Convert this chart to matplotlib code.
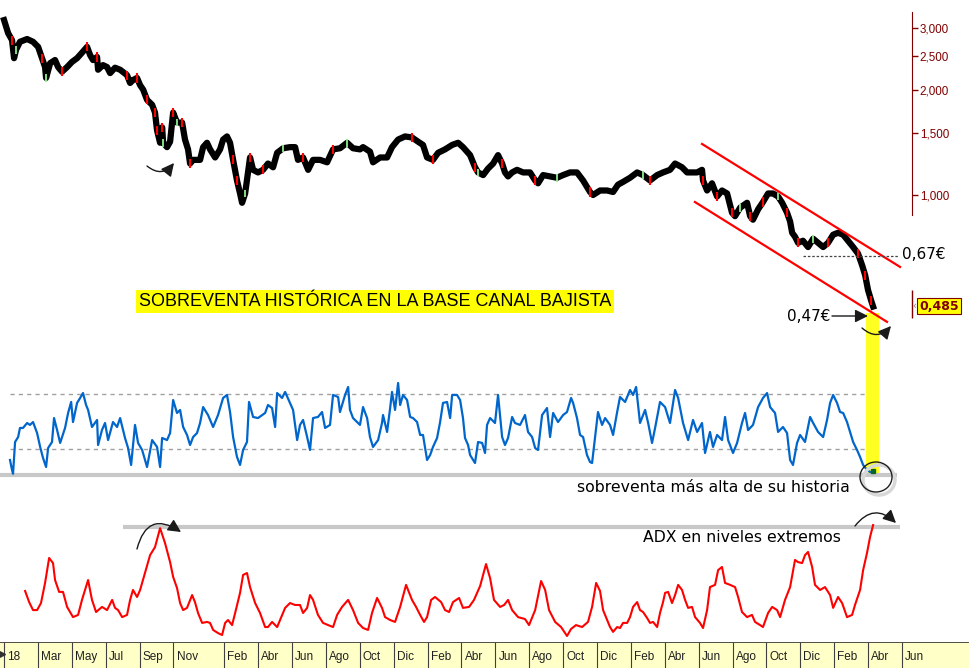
import numpy as np
import matplotlib
matplotlib.use('Agg')
import matplotlib.pyplot as plt
from matplotlib.patches import Rectangle, Ellipse, FancyArrowPatch
from matplotlib.ticker import NullLocator
from matplotlib.transforms import blended_transform_factory

plt.rcParams['font.family'] = ['DejaVu Sans']

# x values are months counted from January 2018
price_m = [0.00, 0.24, 0.47, 0.59, 0.71, 0.94, 1.36, 1.71, 2.01, 2.24,
           2.42, 2.48, 2.72, 3.01, 3.19, 3.42, 3.72, 4.01, 4.31, 4.60,
           4.90, 5.08, 5.25, 5.49, 5.55, 5.84, 6.08, 6.26, 6.55, 6.85,
           7.26, 7.44, 7.61, 7.85, 8.03, 8.21, 8.44, 8.74, 8.91, 9.03,
           9.21, 9.33, 9.39, 9.62, 9.80, 9.98, 10.21, 10.51, 10.68, 10.86,
           10.98, 11.16, 11.57, 11.75, 11.98, 12.16, 12.46, 12.75, 12.93, 13.16,
           13.34, 13.52, 13.75, 13.93, 14.05, 14.23, 14.40, 14.52, 14.70, 14.99,
           15.29, 15.58, 15.88, 16.12, 16.47, 16.88, 17.18, 17.35, 17.65, 17.95,
           18.24, 18.65, 19.07, 19.42, 19.83, 20.25, 20.60, 21.01, 21.19, 21.60,
           21.78, 22.20, 22.61, 22.90, 23.26, 23.67, 24.08, 24.44, 24.73, 24.97,
           25.32, 25.62, 26.03, 26.45, 26.80, 27.09, 27.51, 27.80, 27.98, 28.28,
           28.57, 28.87, 29.16, 29.40, 29.57, 29.75, 29.99, 30.28, 30.64, 31.05,
           31.35, 31.52, 31.82, 32.23, 32.64, 33.00, 33.41, 33.82, 34.18, 34.59,
           34.77, 35.18, 35.60, 35.95, 36.24, 36.54, 36.95, 37.37, 37.72, 38.13,
           38.55, 38.90, 39.31, 39.61, 40.02, 40.32, 40.61, 40.91, 41.20, 41.26,
           41.50, 41.79, 42.09, 42.38, 42.68, 42.97, 43.15, 43.45, 43.86, 44.04,
           44.21, 44.51, 44.80, 45.10, 45.39, 45.69, 45.93, 46.22, 46.40, 46.52,
           46.69, 46.87, 47.16, 47.46, 47.76, 48.05, 48.35, 48.64, 48.94, 49.23,
           49.53, 49.82, 50.12, 50.41, 50.65, 50.83, 51.00, 51.18, 51.30]
price_v = [3.16, 2.90, 2.77, 2.46, 2.60, 2.74, 2.79, 2.74, 2.65, 2.46,
           2.32, 2.16, 2.38, 2.43, 2.32, 2.25, 2.32, 2.40, 2.46, 2.55,
           2.65, 2.51, 2.43, 2.48, 2.28, 2.35, 2.32, 2.23, 2.31, 2.28,
           2.20, 2.09, 2.13, 2.16, 2.06, 2.00, 1.87, 1.81, 1.72, 1.53,
           1.41, 1.56, 1.41, 1.37, 1.42, 1.72, 1.61, 1.61, 1.44, 1.35,
           1.23, 1.26, 1.26, 1.37, 1.41, 1.35, 1.28, 1.35, 1.44, 1.47,
           1.41, 1.26, 1.10, 1.01, 0.95, 1.01, 1.16, 1.28, 1.18, 1.16,
           1.18, 1.23, 1.20, 1.32, 1.36, 1.37, 1.37, 1.26, 1.28, 1.18,
           1.26, 1.26, 1.24, 1.35, 1.36, 1.41, 1.36, 1.35, 1.37, 1.33,
           1.24, 1.28, 1.28, 1.37, 1.44, 1.47, 1.46, 1.42, 1.39, 1.28,
           1.26, 1.32, 1.35, 1.39, 1.41, 1.37, 1.30, 1.20, 1.16, 1.14,
           1.19, 1.23, 1.30, 1.23, 1.16, 1.13, 1.16, 1.18, 1.16, 1.16,
           1.10, 1.08, 1.14, 1.13, 1.12, 1.14, 1.16, 1.16, 1.10, 1.02,
           1.00, 1.03, 1.03, 1.02, 1.07, 1.09, 1.12, 1.16, 1.14, 1.10,
           1.14, 1.16, 1.18, 1.23, 1.20, 1.16, 1.16, 1.16, 1.18, 1.10,
           1.03, 1.08, 0.99, 1.03, 1.01, 0.89, 0.87, 0.92, 0.95, 0.87,
           0.85, 0.91, 0.955, 1.01, 1.01, 0.99, 0.95, 0.89, 0.84, 0.78,
           0.76, 0.73, 0.74, 0.71, 0.75, 0.73, 0.71, 0.73, 0.77, 0.78,
           0.77, 0.74, 0.71, 0.68, 0.63, 0.59, 0.535, 0.50, 0.48]
red_bars = [2, 9, 15, 20, 23, 30, 33, 36, 38, 39, 41, 45, 47, 50, 61, 62, 67, 70,
            78, 83, 96, 100, 107, 113, 120, 129, 139, 149, 152, 155, 159, 162,
            167, 171, 177, 183, 185, 187]
green_bars = [4, 11, 42, 46, 65, 74, 85, 108, 124, 138, 157, 165, 174]

# descending channel (month, price)
chan_up_m = [41.20, 52.89]
chan_up_p = [1.399, 0.623]
chan_lo_m = [40.78, 52.12]
chan_lo_p = [0.955, 0.434]

rsi_m = [0.35, 0.47, 0.53, 0.65, 0.83, 0.94, 1.12, 1.36, 1.53, 1.71,
         1.95, 2.13, 2.30, 2.48, 2.60, 2.83, 2.95, 3.13, 3.31, 3.60,
         3.78, 3.96, 4.07, 4.31, 4.49, 4.66, 4.84, 4.96, 5.19, 5.49,
         5.55, 5.78, 5.96, 6.14, 6.43, 6.67, 6.85, 7.14, 7.32, 7.50,
         7.73, 7.91, 8.15, 8.44, 8.74, 9.03, 9.21, 9.33, 9.62, 9.80,
         9.98, 10.21, 10.39, 10.57, 10.80, 10.98, 11.16, 11.39, 11.57, 11.75,
         12.04, 12.34, 12.63, 12.93, 13.16, 13.34, 13.52, 13.75, 13.93, 14.11,
         14.34, 14.46, 14.70, 14.99, 15.41, 15.58, 15.82, 16.00, 16.12, 16.41,
         16.59, 16.88, 17.06, 17.30, 17.47, 17.65, 17.89, 18.06, 18.24, 18.53,
         18.77, 18.95, 19.24, 19.42, 19.72, 19.83, 20.13, 20.31, 20.42, 20.60,
         21.01, 21.19, 21.43, 21.60, 21.78, 22.08, 22.31, 22.37, 22.61, 22.79,
         22.90, 23.08, 23.26, 23.38, 23.55, 23.79, 23.97, 24.14, 24.38, 24.56,
         24.73, 24.97, 25.15, 25.32, 25.56, 25.74, 25.91, 26.15, 26.33, 26.45,
         26.74, 26.92, 27.09, 27.21, 27.39, 27.51, 27.80, 27.98, 28.22, 28.39,
         28.51, 28.69, 28.98, 29.16, 29.40, 29.57, 29.75, 29.99, 30.16, 30.46,
         30.75, 30.93, 31.17, 31.35, 31.52, 31.76, 32.05, 32.23, 32.41, 32.70,
         33.00, 33.23, 33.47, 33.59, 33.82, 34.00, 34.18, 34.41, 34.59, 34.71,
         34.89, 35.06, 35.30, 35.48, 35.77, 35.95, 36.19, 36.36, 36.66, 36.95,
         37.13, 37.31, 37.54, 37.84, 38.02, 38.25, 38.43, 38.72, 39.02, 39.31,
         39.61, 39.79, 40.08, 40.38, 40.67, 40.91, 41.20, 41.38, 41.67, 41.85,
         42.09, 42.38, 42.56, 42.74, 43.03, 43.27, 43.56, 43.74, 43.92, 44.21,
         44.51, 44.80, 45.04, 45.22, 45.51, 45.69, 45.98, 46.22, 46.40, 46.57,
         46.81, 46.99, 47.28, 47.58, 47.76, 48.05, 48.35, 48.58, 48.76, 48.94,
         49.17, 49.35, 49.53, 49.76, 49.94, 50.12, 50.35, 50.53, 50.71, 50.94,
         51.12, 51.30]
rsi_v = [22.0, 14.7, 12.0, 35.1, 38.7, 45.3, 45.3, 48.9, 47.5, 49.6,
         41.6, 31.5, 23.5, 16.9, 30.7, 35.1, 52.5, 43.8, 34.4, 45.3,
         56.2, 64.2, 49.6, 63.5, 67.1, 70.7, 62.0, 58.4, 46.0, 51.1,
         32.9, 43.8, 48.9, 36.5, 49.6, 46.0, 52.5, 38.0, 30.7, 18.4,
         47.5, 34.4, 29.3, 16.9, 36.5, 31.5, 16.9, 38.0, 36.5, 41.6,
         65.6, 56.2, 58.4, 46.0, 40.2, 32.9, 38.7, 41.6, 48.9, 60.5,
         54.7, 46.0, 54.7, 67.1, 69.3, 56.9, 38.7, 24.2, 18.4, 29.3,
         35.1, 64.2, 53.3, 52.5, 56.2, 62.0, 59.8, 46.0, 70.7, 67.1,
         71.5, 63.5, 58.4, 36.5, 47.5, 51.1, 38.7, 29.3, 52.5, 53.3,
         56.9, 45.3, 47.5, 69.3, 67.8, 56.9, 69.3, 75.1, 58.4, 52.5,
         47.5, 60.5, 52.5, 38.7, 31.5, 36.5, 48.9, 54.7, 42.4, 59.8,
         71.5, 58.4, 78.0, 62.0, 69.3, 65.6, 53.3, 52.5, 49.6, 40.2,
         40.2, 22.0, 25.6, 31.5, 38.0, 49.6, 63.5, 64.2, 52.5, 69.3,
         69.3, 65.6, 52.5, 38.0, 32.9, 25.6, 19.8, 35.1, 34.4, 27.1,
         47.5, 52.5, 48.9, 69.3, 38.7, 32.9, 38.0, 53.3, 48.9, 47.5,
         54.7, 42.4, 38.7, 30.7, 29.3, 54.7, 59.8, 38.7, 56.2, 49.6,
         54.7, 56.9, 67.1, 63.5, 52.5, 40.2, 38.7, 25.6, 20.5, 19.8,
         38.7, 56.9, 47.5, 52.5, 47.5, 40.2, 56.9, 67.8, 64.2, 72.9,
         69.3, 75.1, 48.9, 58.4, 48.9, 34.4, 45.3, 64.2, 60.5, 48.9,
         72.9, 67.1, 48.9, 36.5, 51.1, 42.4, 48.9, 27.1, 42.4, 31.5,
         40.2, 36.5, 53.3, 36.5, 27.1, 34.4, 48.9, 56.2, 43.8, 47.5,
         60.5, 67.1, 70.7, 60.5, 56.2, 42.4, 46.0, 41.6, 22.0, 18.4,
         34.4, 40.2, 35.1, 53.3, 48.9, 42.4, 38.7, 51.1, 63.5, 69.3,
         63.5, 56.9, 56.2, 49.6, 42.4, 35.1, 29.3, 24.2, 18.4, 14.7,
         13.3, 13.3]

adx_m = [1.24, 1.48, 1.71, 1.95, 2.18, 2.42, 2.66, 2.89, 3.01, 3.25,
         3.48, 3.72, 4.07, 4.37, 4.60, 4.96, 5.19, 5.43, 5.78, 6.08,
         6.38, 6.55, 6.73, 6.97, 7.26, 7.44, 7.61, 7.85, 8.03, 8.32,
         8.62, 8.91, 9.21, 9.50, 9.80, 9.98, 10.21, 10.39, 10.57, 10.80,
         11.10, 11.27, 11.45, 11.69, 11.98, 12.16, 12.34, 12.63, 12.87, 13.05,
         13.22, 13.46, 13.64, 13.93, 14.11, 14.34, 14.52, 14.82, 15.11, 15.41,
         15.58, 15.82, 16.12, 16.29, 16.59, 16.88, 17.18, 17.47, 17.65, 17.89,
         18.06, 18.24, 18.53, 18.83, 19.13, 19.42, 19.66, 19.95, 20.31, 20.60,
         20.90, 21.19, 21.49, 21.72, 22.02, 22.31, 22.49, 22.79, 23.08, 23.38,
         23.73, 24.08, 24.32, 24.56, 24.79, 24.97, 25.21, 25.44, 25.80, 26.03,
         26.27, 26.50, 26.86, 27.09, 27.45, 27.74, 28.10, 28.45, 28.69, 28.92,
         29.28, 29.52, 29.75, 29.99, 30.34, 30.75, 30.99, 31.35, 31.70, 31.94,
         32.17, 32.53, 32.88, 33.23, 33.47, 33.76, 34.12, 34.47, 34.71, 34.95,
         35.18, 35.36, 35.60, 35.77, 35.95, 36.19, 36.36, 36.54, 36.78, 36.95,
         37.13, 37.37, 37.54, 37.72, 37.96, 38.13, 38.31, 38.55, 38.72, 38.90,
         39.02, 39.20, 39.43, 39.61, 39.79, 40.02, 40.20, 40.38, 40.61, 40.79,
         41.08, 41.26, 41.50, 41.67, 41.97, 42.15, 42.38, 42.56, 42.86, 43.15,
         43.33, 43.56, 43.86, 44.15, 44.33, 44.63, 44.80, 45.10, 45.34, 45.63,
         45.81, 46.10, 46.40, 46.69, 46.87, 47.11, 47.28, 47.46, 47.70, 47.87,
         48.17, 48.46, 48.76, 48.94, 49.23, 49.47, 49.76, 50.06, 50.23, 50.53,
         50.71, 50.94, 51.12, 51.30]
adx_v = [28.6, 24.0, 20.7, 20.7, 23.6, 31.9, 42.2, 40.1, 33.1, 28.2,
         28.2, 22.0, 17.8, 18.7, 24.9, 33.1, 24.9, 19.9, 22.0, 20.7,
         24.9, 21.6, 20.7, 17.8, 18.7, 24.9, 29.0, 26.1, 29.0, 36.0,
         43.4, 46.7, 54.5, 48.4, 40.5, 34.4, 29.8, 23.6, 20.7, 21.6,
         26.9, 24.0, 19.5, 15.4, 15.8, 15.4, 12.5, 11.2, 10.4, 15.4,
         16.6, 14.5, 19.5, 27.8, 35.2, 36.0, 30.2, 23.6, 19.5, 13.7,
         13.7, 15.8, 13.7, 16.6, 21.6, 23.6, 22.8, 22.8, 19.5, 21.6,
         26.9, 24.9, 18.7, 15.4, 14.5, 13.7, 18.7, 22.0, 24.9, 20.7,
         15.4, 13.3, 12.5, 19.5, 25.7, 21.6, 17.8, 16.6, 15.8, 22.0,
         31.1, 24.9, 22.0, 18.7, 15.8, 17.8, 24.9, 26.1, 24.0, 20.7,
         19.9, 24.0, 25.7, 21.6, 22.0, 24.9, 30.6, 39.7, 33.9, 24.9,
         22.0, 22.8, 24.9, 20.7, 17.8, 17.0, 14.5, 20.7, 32.7, 29.0,
         20.7, 15.8, 13.7, 10.0, 12.9, 14.5, 13.7, 15.8, 22.0, 31.9,
         28.6, 20.7, 16.6, 13.7, 11.7, 13.7, 13.3, 15.4, 15.4, 17.8,
         22.0, 24.0, 20.7, 19.9, 17.4, 15.4, 15.8, 13.7, 19.5, 24.0,
         27.8, 28.2, 23.6, 26.9, 31.1, 29.0, 24.9, 21.6, 22.0, 17.8,
         15.4, 13.3, 20.7, 30.2, 31.1, 37.2, 38.5, 31.9, 31.1, 30.2,
         26.1, 19.9, 17.8, 18.7, 15.8, 14.5, 13.7, 19.5, 22.0, 20.7,
         17.8, 24.9, 30.2, 41.4, 40.5, 40.1, 43.4, 44.7, 38.5, 31.1,
         29.0, 30.2, 26.9, 21.6, 26.1, 23.6, 17.8, 18.7, 22.8, 29.0,
         37.2, 44.3, 50.9, 55.8]

month_ticks = [0, 2, 4, 6, 8, 10, 13, 15, 17, 19, 21, 23, 25, 27, 29, 31, 33, 35,
               37, 39, 41, 43, 45, 47, 49, 51, 53]
month_labels = ['18', 'Mar', 'May', 'Jul', 'Sep', 'Nov', 'Feb', 'Abr', 'Jun', 'Ago',
                'Oct', 'Dic', 'Feb', 'Abr', 'Jun', 'Ago', 'Oct', 'Dic', 'Feb', 'Abr',
                'Jun', 'Ago', 'Oct', 'Dic', 'Feb', 'Abr', 'Jun']

price_ticks = [1.0, 1.5, 2.0, 2.5, 3.0]
price_ticklabels = ['1,000', '1,500', '2,000', '2,500', '3,000']
last_price = 0.485
resistance = 0.67
rsi_levels = [70, 30]
rsi_floor = 11.1
adx_extreme = 55.0

W, H = 969, 668
XLIM = (-0.24, 56.96)
AXIS_M = 53.6


def fx(x):
    return x / W


def fy(y):
    return 1 - y / H


fig = plt.figure(figsize=(W / 100, H / 100), dpi=100)
fig.patch.set_facecolor('white')

ax_p = fig.add_axes([0, fy(360), 1, 360 / H])
ax_r = fig.add_axes([0, fy(490), 1, 120 / H])
ax_a = fig.add_axes([0, fy(642), 1, 142 / H])
ax_d = fig.add_axes([0, 0, 1, 26 / H])

for ax in (ax_p, ax_r, ax_a, ax_d):
    ax.set_facecolor('none')
    ax.set_xlim(*XLIM)
    for s in ax.spines.values():
        s.set_visible(False)
    ax.tick_params(axis='both', which='both', bottom=False, left=False,
                   labelbottom=False, labelleft=False)

# ---- price panel ----
ax_p.set_yscale('log')
ax_p.set_ylim(0.3377, 3.607)
pm = np.array(price_m)
pv = np.array(price_v)
ax_p.plot(pm, pv, color='black', lw=4.5, solid_joinstyle='round', zorder=2)
ax_p.vlines(pm[red_bars], pv[red_bars] * 0.97, pv[red_bars] * 1.03,
            colors='#FF0000', lw=1.5, zorder=3)
ax_p.vlines(pm[green_bars], pv[green_bars] * 0.975, pv[green_bars] * 1.025,
            colors='#90EE90', lw=1.3, zorder=3)
ax_p.plot(chan_up_m, chan_up_p, color='#FF0000', lw=1.6, zorder=4)
ax_p.plot(chan_lo_m, chan_lo_p, color='#FF0000', lw=1.6, zorder=4)
ax_p.hlines(resistance, 47.16, 52.77, colors='#444444', linestyles=(0, (2, 1.5)),
            lw=0.9, zorder=4)

sp = ax_p.spines['right']
sp.set_visible(True)
sp.set_position(('data', AXIS_M))
sp.set_bounds(0.877, 3.33)
sp.set_color('#800000')
ax_p.yaxis.set_ticks_position('right')
ax_p.set_yticks(price_ticks)
ax_p.set_yticklabels(price_ticklabels, family='Liberation Sans')
ax_p.yaxis.set_minor_locator(NullLocator())
ax_p.tick_params(axis='y', which='major', right=True, labelright=True,
                 direction='out', length=4, width=1, color='#800000',
                 labelcolor='#800000', labelsize=8.4, pad=1.5)
ax_p.vlines(AXIS_M, 0.445, 0.535, colors='#800000', lw=1)
fig.text(fx(914.5), fy(306), '‹', fontsize=7, color='#808080', ha='center', va='center')
fig.text(fx(919), fy(306), '0,485', ha='left', va='center', fontsize=9,
         fontweight='bold', color='#800000',
         bbox=dict(boxstyle='square,pad=0.15', fc='#FFFF00', ec='#800000', lw=0.8))

# ---- RSI panel ----
ax_r.set_ylim(0.18, 87.45)
ax_r.hlines(rsi_levels, 0.35, 50.88, colors='#A0A0A0', linestyles=(0, (3, 3)), lw=1)
ax_r.hlines(rsi_floor, XLIM[0], 52.71, colors='#C8C8C8', lw=3)
ax_r.plot(rsi_m, rsi_v, color='#0066CC', lw=1.6, zorder=3)
ax_r.plot(rsi_m[-1], rsi_v[-1] + 0.5, marker='s', ms=3.5, color='#0B6623', zorder=4)

# ---- ADX panel ----
ax_a.set_ylim(7.52, 66.14)
ax_a.hlines(adx_extreme, 7.02, 52.89, colors='#C8C8C8', lw=3)
ax_a.plot(adx_m, adx_v, color='#FF0000', lw=1.5, zorder=3)

# ---- date strip ----
ax_d.set_facecolor('#FFFFC8')
ax_d.set_ylim(0, 1)
ax_d.axhline(1, color='#303030', lw=1.2)
ax_d.vlines(month_ticks, 0, 1, colors='#404040', lw=0.8)
for m, lab in zip(month_ticks, month_labels):
    ax_d.annotate(lab, xy=(m, 0.42), xytext=(2.2, 0), textcoords='offset points',
                  ha='left', va='center', fontsize=8.5,
                  family=['Liberation Sans Narrow', 'Liberation Sans'], color='#202020')
ax_d.plot(-0.12, 0.55, marker='>', ms=4, color='#303030', clip_on=False)

# ---- highlight bar and circle ----
bt = blended_transform_factory(ax_p.transData, fig.transFigure)
fig.add_artist(Rectangle((50.88, fy(476)), 0.77, (476 - 313) / H, transform=bt,
                         fc='#FFFF22', ec='none', zorder=-1))
fig.add_artist(Ellipse((fx(879), fy(480)), 32 / W, 30 / H, transform=fig.transFigure,
                       fc='none', ec='#D8D8D8', lw=2.5, zorder=5))
fig.add_artist(Ellipse((fx(876), fy(477)), 32 / W, 30 / H, transform=fig.transFigure,
                       fc='none', ec='#202020', lw=1, zorder=6))


def arrow(x1, y1, x2, y2, rad):
    fig.add_artist(FancyArrowPatch((fx(x1), fy(y1)), (fx(x2), fy(y2)),
                                   transform=fig.transFigure,
                                   connectionstyle='arc3,rad=%s' % rad,
                                   arrowstyle='-|>,head_length=0.6,head_width=0.3',
                                   mutation_scale=13, color='#1a1a1a', lw=1,
                                   shrinkA=0, shrinkB=0, zorder=7))


arrow(147, 166, 174, 163, 0.5)
arrow(862, 328, 891, 326, 0.5)
arrow(137, 549, 181, 532, -0.7)
arrow(855, 526, 896, 523, -0.55)
arrow(832, 316, 868, 316, 0)

# ---- texts ----
fig.text(fx(375), fy(301.5), 'SOBREVENTA HISTÓRICA EN LA BASE CANAL BAJISTA',
         ha='center', va='center', fontsize=13, family='Liberation Sans',
         bbox=dict(boxstyle='square,pad=0.15', fc='#FFFF00', ec='none'))
fig.text(fx(902), fy(255), '0,67€', ha='left', va='center', fontsize=11)
fig.text(fx(830), fy(316), '0,47€', ha='right', va='center', fontsize=11)
fig.text(fx(577), fy(488), 'sobreventa más alta de su historia', ha='left',
         va='center', fontsize=11.3)
fig.text(fx(643), fy(538), 'ADX en niveles extremos', ha='left', va='center',
         fontsize=11.3)

fig.savefig('out.png', dpi=100)
